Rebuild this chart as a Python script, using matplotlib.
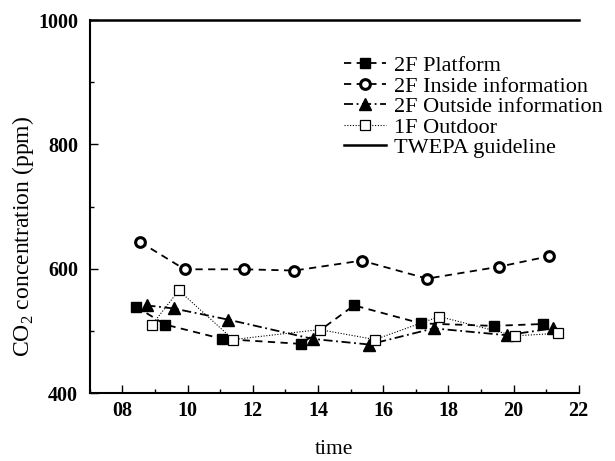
import numpy as np
import matplotlib
matplotlib.use('Agg')
import matplotlib.pyplot as plt
from matplotlib.ticker import MultipleLocator

plt.rcParams['font.family'] = ['Liberation Serif', 'DejaVu Serif']
plt.rcParams['mathtext.fontset'] = 'custom'
plt.rcParams['mathtext.rm'] = 'Liberation Serif'

# 2F Platform
t_plat = [8.41, 9.32, 11.07, 13.49, 15.11, 17.16, 19.39, 20.9]
co2_plat = [539, 510, 487, 479, 541, 512, 508, 511]

# 2F Inside information
t_in = [8.54, 9.91, 11.73, 13.28, 15.34, 17.35, 19.54, 21.09]
co2_in = [643, 599, 599, 597, 613, 584, 603, 620]

# 2F Outside information
t_out = [8.74, 9.57, 11.25, 13.84, 15.57, 17.55, 19.79, 21.2]
co2_out = [541, 536, 518, 487, 478, 504, 493, 504]

# 1F Outdoor
t_1f = [8.91, 9.73, 11.4, 14.05, 15.75, 17.72, 20.04, 21.37]
co2_1f = [510, 565, 486, 502, 486, 523, 492, 496]

guideline = 1000

fig = plt.figure(figsize=(6.15, 4.61), dpi=100)
ax = fig.add_axes([0.146, 0.1475, 0.795, 0.809])

ax.plot(t_plat, co2_plat, color='black', linestyle=(0, (4, 3)), linewidth=1.3,
        marker='s', markersize=7, label='2F Platform')
ax.plot(t_in, co2_in, color='black', linestyle=(0, (4, 3)), linewidth=1.3,
        marker='o', markersize=7, mfc='white', mec='black', mew=2.2,
        label='2F Inside information')
ax.plot(t_out, co2_out, color='black', linestyle=(0, (5, 2, 1, 2)), linewidth=1.3,
        marker='^', markersize=8, label='2F Outside information')
ax.plot(t_1f, co2_1f, color='black', linestyle=(0, (1, 1.5)), linewidth=0.8,
        marker='s', markersize=7, mfc='white', mec='black', mew=0.9,
        label='1F Outdoor')
ax.axhline(guideline, color='black', linewidth=1.8, label='TWEPA guideline', clip_on=False)

ax.set_xlim(7, 22)
ax.set_ylim(400, 1000)
ax.xaxis.set_minor_locator(MultipleLocator(1))
ax.yaxis.set_major_locator(MultipleLocator(200))
ax.yaxis.set_minor_locator(MultipleLocator(100))
ax.set_xticks(np.arange(8, 23, 2))
ax.set_xticklabels(['08', '10', '12', '14', '16', '18', '20', '22'])

ax.tick_params(which='both', direction='in', top=False, right=False)
ax.tick_params(which='major', length=6, width=1, labelsize=14.5)
ax.tick_params(axis='y', which='major', pad=8.5)
ax.tick_params(axis='x', which='major', pad=5.5)
ax.tick_params(which='minor', length=3, width=1)
for lab in ax.get_xticklabels() + ax.get_yticklabels():
    lab.set_fontweight('bold')

ax.spines['top'].set_visible(False)
ax.spines['right'].set_visible(False)
ax.spines['left'].set_linewidth(1.5)
ax.spines['bottom'].set_linewidth(1.5)

ax.set_xlabel('time', fontsize=15.5, labelpad=14)
ax.set_ylabel('CO$_2$ concentration (ppm)', fontsize=17)
ax.yaxis.set_label_coords(-0.111, 0.42)

ax.legend(loc='upper left', bbox_to_anchor=(0.52, 0.905), frameon=False,
          fontsize=16, handlelength=1.9, handletextpad=0.36, labelspacing=0.0,
          borderpad=0, borderaxespad=0)

fig.savefig('out.png', dpi=100)
